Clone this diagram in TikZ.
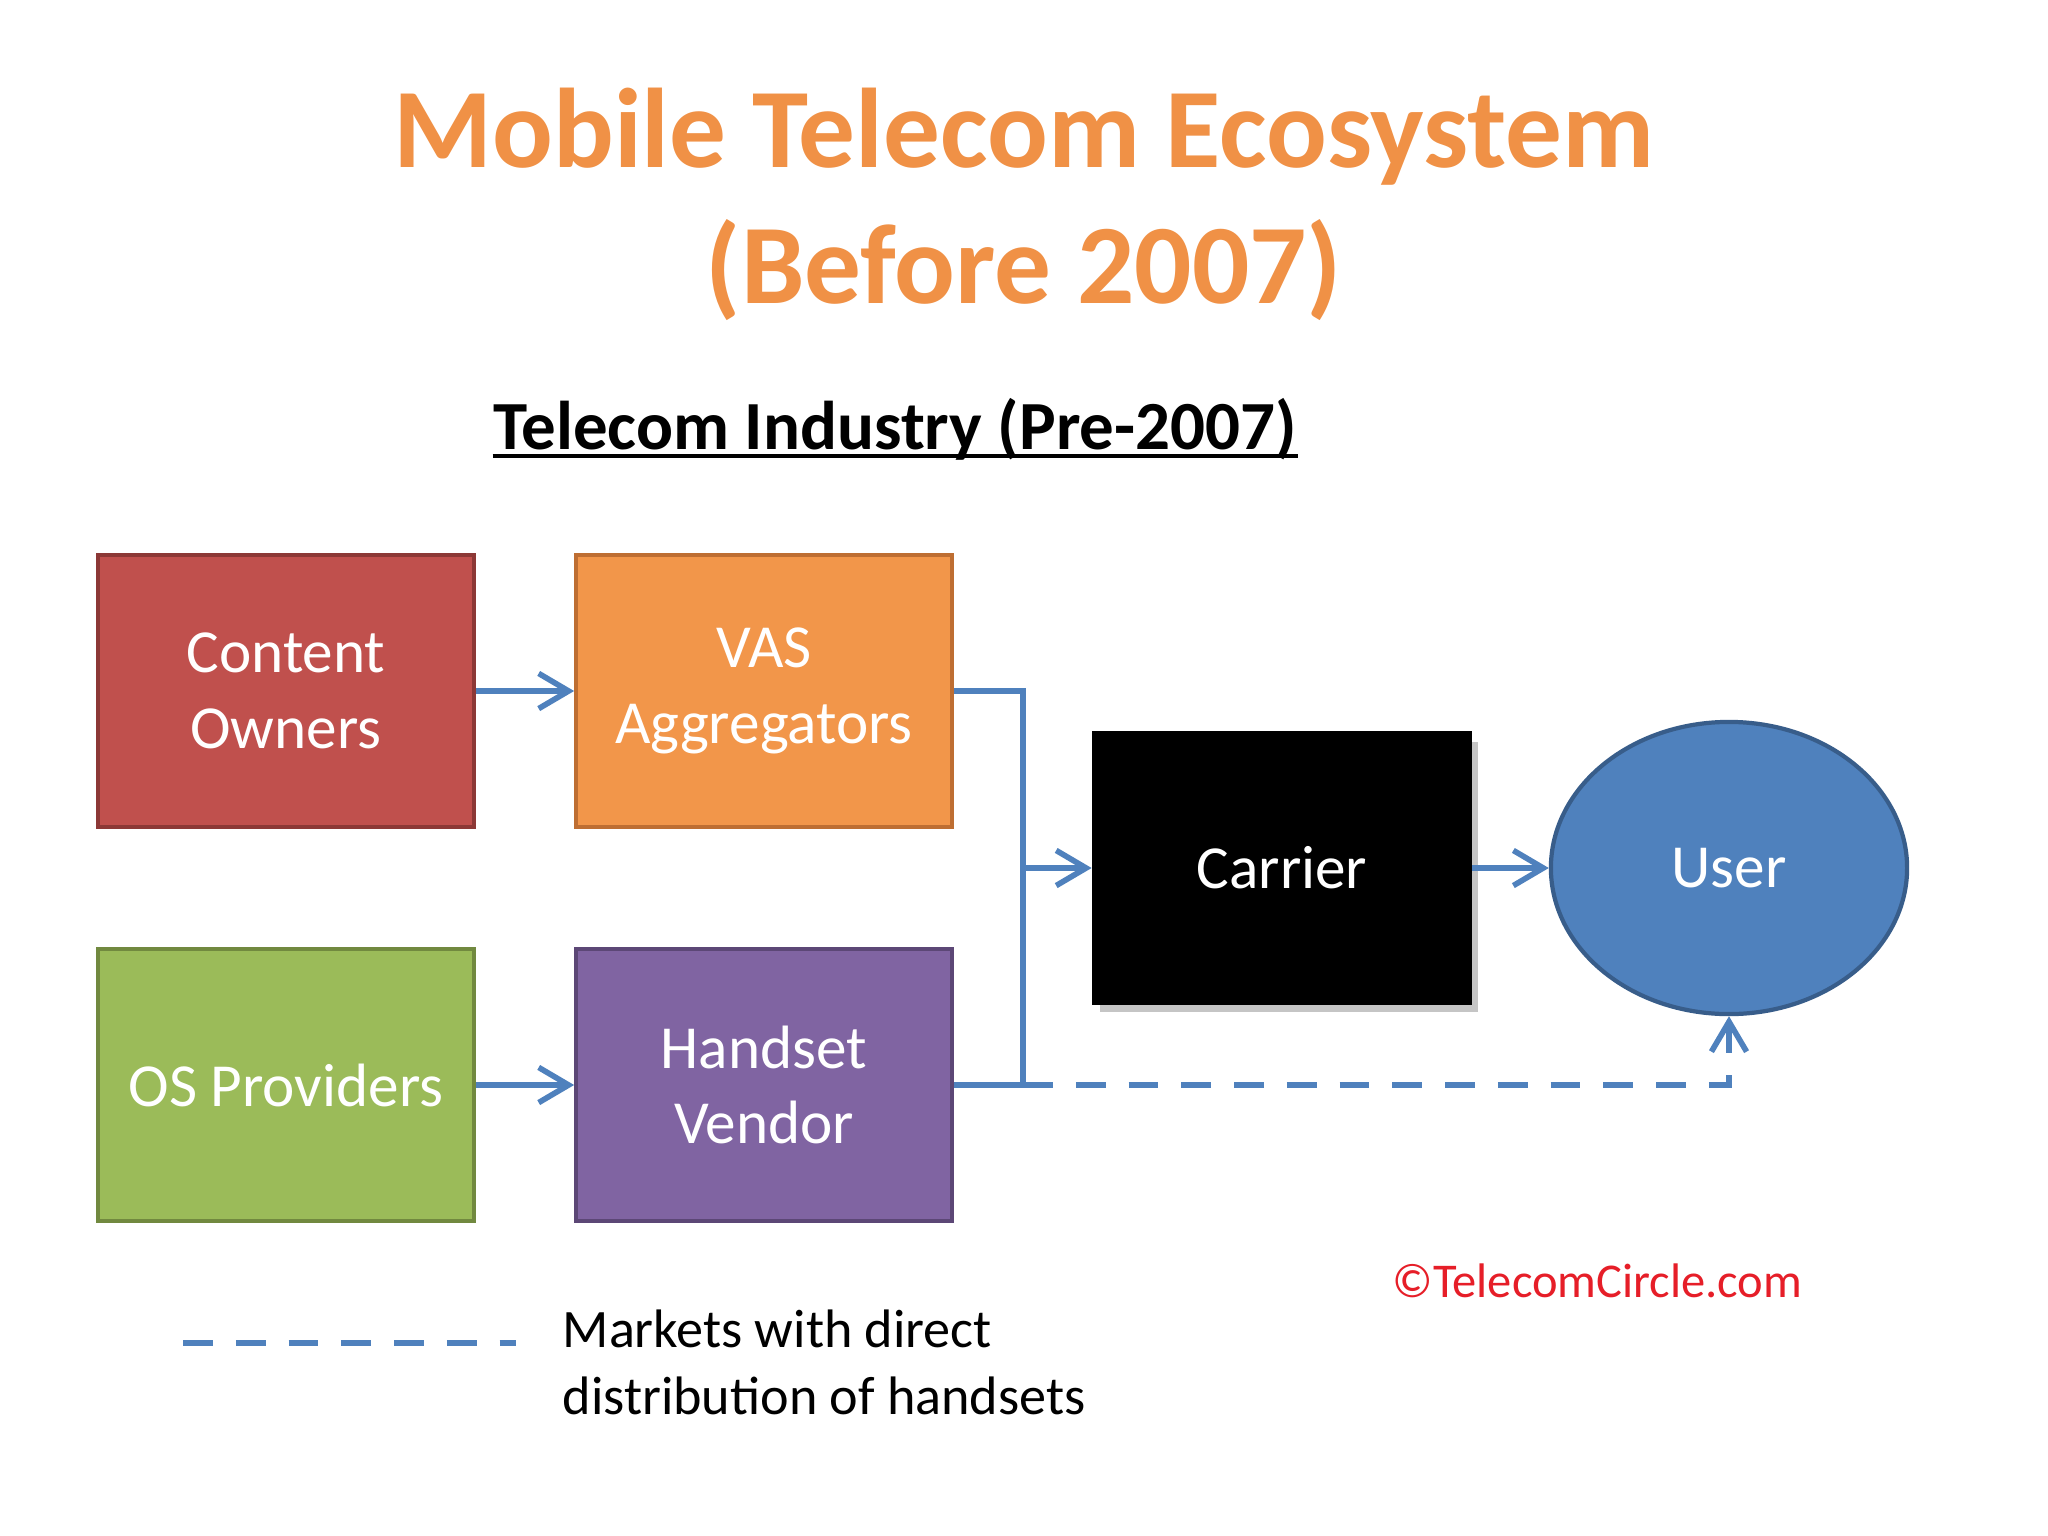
\documentclass[tikz,border=0pt]{standalone}
\usepackage{fontspec}
\setmainfont{Carlito}
\usetikzlibrary{arrows.meta,shapes.geometric,shadows}
\definecolor{ttl}{RGB}{240,145,70}
\definecolor{cofill}{RGB}{192,80,77}
\definecolor{codraw}{RGB}{140,56,54}
\definecolor{vasfill}{RGB}{242,150,74}
\definecolor{vasdraw}{RGB}{190,110,50}
\definecolor{osfill}{RGB}{155,187,89}
\definecolor{osdraw}{RGB}{113,137,63}
\definecolor{hvfill}{RGB}{128,100,162}
\definecolor{hvdraw}{RGB}{92,71,118}
\definecolor{userfill}{RGB}{79,129,189}
\definecolor{userdraw}{RGB}{56,93,138}
\definecolor{conncol}{RGB}{79,129,189}
\definecolor{copyred}{RGB}{230,30,40}
\tikzset{
  boxnode/.style={rectangle, minimum width=3.76cm, minimum height=2.72cm, line width=1pt,
    text=white, align=center, font=\fontsize{17.4}{21.5}\selectfont, inner sep=0pt},
  conn/.style={draw=conncol, line width=1.6pt},
  tipped/.style={-{Straight Barb[length=8.5pt,width=10pt,line width=1.6pt]}},
  dashconn/.style={conn, dash pattern=on 8.5pt off 6.5pt}
}
\begin{document}
\begin{tikzpicture}[x=0.01cm,y=-0.01cm]
\useasboundingbox[fill=white] (0,0) rectangle (2048,1536);
% titles
\node[anchor=base, text=ttl, font=\fontsize{32.2}{38}\selectfont\bfseries, inner sep=0pt] (t1) at (1024,167) {Mobile Telecom Ecosystem};
\node[anchor=base, text=ttl, font=\fontsize{32.2}{38}\selectfont\bfseries, inner sep=0pt] (t2) at (1024,303) {(Before 2007)};
\node[anchor=base, font=\fontsize{19.6}{24}\selectfont\bfseries, inner sep=0pt] (sub) at (895,449) {Telecom Industry (Pre-2007)};
\draw[line width=0.9pt] ([yshift=-2pt]sub.base west) -- ([yshift=-2pt]sub.base east);
% boxes
\node[boxnode, fill=cofill, draw=codraw] (co) at (286,691) {Content\\Owners};
\node[boxnode, fill=vasfill, draw=vasdraw] (vas) at (764,691) {VAS\\Aggregators};
\node[boxnode, fill=osfill, draw=osdraw] (os) at (286,1085) {OS Providers};
\node[boxnode, fill=hvfill, draw=hvdraw] (hv) at (764,1085) {Handset\\Vendor};
\node[boxnode, fill=black, draw=black, minimum width=3.77cm, minimum height=2.70cm,
  drop shadow={shadow xshift=2pt, shadow yshift=-2.5pt, fill=black!45, opacity=0.5}] (car) at (1282,868) {Carrier};
\node[ellipse, fill=userfill, draw=userdraw, line width=1.2pt, minimum width=3.56cm, minimum height=2.92cm,
  text=white, font=\fontsize{17.4}{21.5}\selectfont, inner sep=0pt] (user) at (1729,868) {User};
% connectors
\coordinate (jx) at (1023,868);
\draw[conn, tipped] (co.east) -- (vas.west);
\draw[conn, tipped] (os.east) -- (hv.west);
\draw[conn] (vas.east) -| (jx) |- (hv.east);
\draw[conn, tipped] (jx) -- (car.west);
\draw[conn, tipped] (car.east) -- (user.west);
\draw[dashconn, tipped] (jx |- hv.east) -| (user.south);
% legend
\coordinate (lg1) at (183,1343);
\coordinate (lg2) at (516,1343);
\draw[dashconn] (lg1) -- (lg2);
\node[anchor=base west, font=\fontsize{15.4}{19}\selectfont, inner sep=0pt] (lgt1) at (562,1347) {Markets with direct};
\node[anchor=base west, font=\fontsize{15.4}{19}\selectfont, inner sep=0pt] (lgt2) at (562,1414) {distribution of handsets};
\node[anchor=base west, text=copyred, font=\fontsize{13.8}{17}\selectfont, inner sep=0pt] (copy) at (1392,1297) {©TelecomCircle.com};
\end{tikzpicture}
\end{document}
